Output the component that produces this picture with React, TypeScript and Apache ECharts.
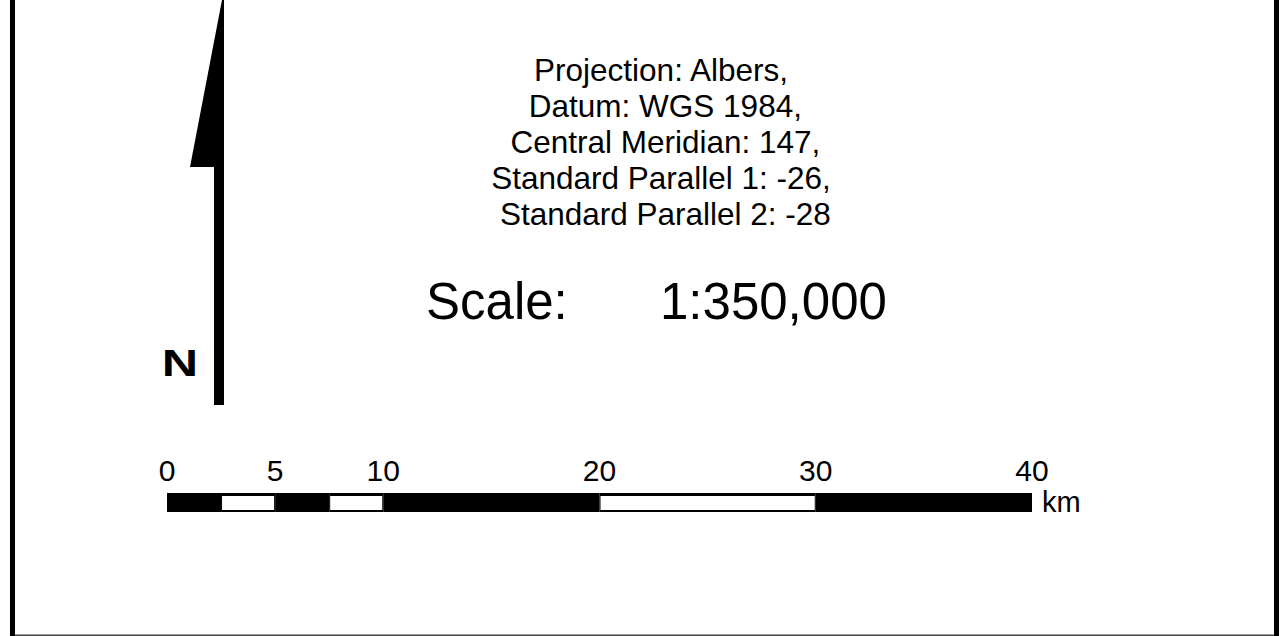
import React, { useEffect, useRef } from "react";
import * as echarts from "echarts";

// Scale bar segments (km)
const segStarts = [0, 2.5, 5, 7.5, 10, 20, 30];
const segEnds = [2.5, 5, 7.5, 10, 20, 30, 40];
const segFills = [0, 1, 0, 1, 0, 1, 0]; // 0 = black, 1 = white
const tickLabels = [0, 5, 10, 20, 30, 40];
const unitLabel = "km";

const infoLines = [
  "Projection: Albers,",
  " Datum: WGS 1984,",
  " Central Meridian: 147,",
  "Standard Parallel 1: -26,",
  " Standard Parallel 2: -28",
];
const scaleWord = "Scale:";
const scaleRatio = "1:350,000";
const northLabel = "N";

const FONT = "'Liberation Sans', Arial, Helvetica, sans-serif";

export default function App() {
  const ref = useRef<HTMLDivElement>(null);
  useEffect(() => {
    if (!ref.current) return;
    const chart = echarts.init(ref.current, null, { renderer: "svg" });
    const segData = segStarts.map((s, i) => [s, segEnds[i], segFills[i]]);
    chart.setOption({
      animation: false,
      backgroundColor: "#ffffff",
      grid: { left: 167, right: 247, top: 493, height: 19, containLabel: false },
      xAxis: {
        type: "value",
        min: 0,
        max: 40,
        interval: 5,
        position: "top",
        axisLine: { show: false },
        axisTick: { show: false },
        splitLine: { show: false },
        axisLabel: {
          show: true,
          margin: 8,
          color: "#000",
          fontFamily: FONT,
          fontSize: 30,
          lineHeight: 30,
          showMinLabel: true,
          showMaxLabel: true,
          formatter: (v: number) => (tickLabels.indexOf(v) >= 0 ? String(v) : ""),
        },
      },
      yAxis: { type: "value", min: 0, max: 1, show: false },
      series: [
        {
          type: "custom",
          data: segData,
          renderItem: (params: any, api: any) => {
            const s = api.value(0);
            const e = api.value(1);
            const white = api.value(2) === 1;
            const p0 = api.coord([s, 1]);
            const p1 = api.coord([e, 0]);
            const x = p0[0];
            const y = p0[1];
            const w = p1[0] - p0[0];
            const h = p1[1] - p0[1];
            const children: any[] = [
              {
                type: "rect",
                shape: { x, y, width: w, height: h },
                style: { fill: "#000000" },
              },
            ];
            if (white) {
              children.push({
                type: "rect",
                shape: { x: x + 1, y: y + 3, width: w - 2, height: h - 5 },
                style: { fill: "#ffffff" },
              });
            }
            return { type: "group", children };
          },
        },
      ],
      graphic: [
        // frame
        { type: "rect", shape: { x: 10, y: 0, width: 5, height: 636 }, style: { fill: "#000" } },
        { type: "rect", shape: { x: 1274, y: 0, width: 5, height: 636 }, style: { fill: "#000" } },
        { type: "rect", shape: { x: 15, y: 634.5, width: 1259, height: 1.5 }, style: { fill: "#444" } },
        // north arrow
        {
          type: "polygon",
          shape: {
            points: [
              [222, 0],
              [224, 0],
              [224, 405],
              [214, 405],
              [214, 167],
              [190, 167],
            ],
          },
          style: { fill: "#000" },
        },
        {
          type: "text",
          x: 180,
          y: 363,
          scaleX: 1.4,
          style: {
            text: northLabel,
            fontFamily: FONT,
            fontWeight: "bold",
            fontSize: 36,
            fill: "#000",
            align: "center",
            verticalAlign: "middle",
          },
        },
        // info text
        {
          type: "text",
          x: 661,
          y: 142,
          style: {
            text: infoLines.join("\n"),
            fontFamily: FONT,
            fontSize: 31.5,
            lineHeight: 36,
            fill: "#000",
            align: "center",
            verticalAlign: "middle",
          },
        },
        {
          type: "text",
          x: 426,
          y: 301,
          style: {
            text: scaleWord,
            fontFamily: FONT,
            fontSize: 51,
            fill: "#000",
            align: "left",
            verticalAlign: "middle",
          },
        },
        {
          type: "text",
          x: 660,
          y: 301,
          style: {
            text: scaleRatio,
            fontFamily: FONT,
            fontSize: 51,
            fill: "#000",
            align: "left",
            verticalAlign: "middle",
          },
        },
        {
          type: "text",
          x: 1042,
          y: 502,
          style: {
            text: unitLabel,
            fontFamily: FONT,
            fontSize: 29,
            fill: "#000",
            align: "left",
            verticalAlign: "middle",
          },
        },
      ],
    });
    return () => chart.dispose();
  }, []);
  return (
    <div
      ref={ref}
      style={{ position: "absolute", left: 0, top: 0, width: 1279, height: 636 }}
    />
  );
}
